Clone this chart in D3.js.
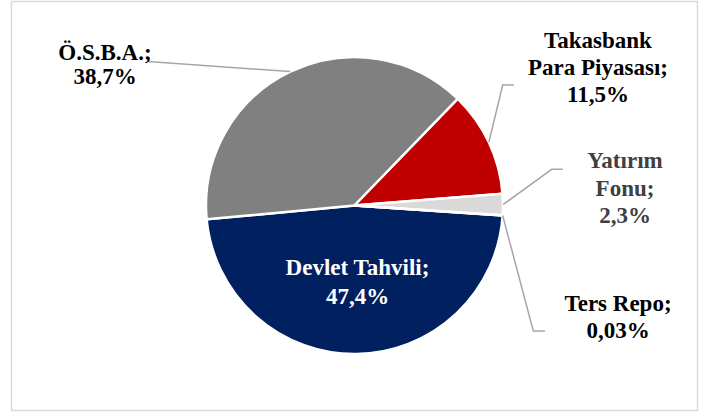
<!DOCTYPE html>
<html>
<head>
<meta charset="utf-8">
<script src="https://cdn.jsdelivr.net/npm/d3@7"></script>
<style>
  body { margin: 0; background: #fff; }
</style>
</head>
<body>
<div id="chart"></div>
<script>
// Data
var categories = ["Devlet Tahvili", "Ö.S.B.A.", "Takasbank Para Piyasası", "Yatırım Fonu", "Ters Repo"];
var values = [47.4, 38.7, 11.5, 2.3, 0.03];
var valueLabels = ["47,4%", "38,7%", "11,5%", "2,3%", "0,03%"];
var labelLines = [
  ["Devlet Tahvili;", "47,4%"],
  ["Ö.S.B.A.;", "38,7%"],
  ["Takasbank", "Para Piyasası;", "11,5%"],
  ["Yatırım", "Fonu;", "2,3%"],
  ["Ters Repo;", "0,03%"]
];
var colors = ["#002060", "#808080", "#c00000", "#d9d9d9", "#d9d9d9"];

// Step 1: chart area
var svgWidth = 705;
var svgHeight = 414;
var cx = 354.5, cy = 205.5, radius = 148.5;

var svg = d3.select("#chart").append("svg")
  .attr("width", svgWidth)
  .attr("height", svgHeight);

// outer frame
svg.append("rect")
  .attr("x", 11.5).attr("y", 1.5)
  .attr("width", 686).attr("height", 409)
  .attr("fill", "none")
  .attr("stroke", "#d9d9d9")
  .attr("stroke-width", 1.5);

var chartGroup = svg.append("g")
  .attr("transform", `translate(${cx}, ${cy})`);

// Step 2: pie layout
var start = 93.9 * Math.PI / 180;
var pie = d3.pie().sort(null).startAngle(start).endAngle(start + 2 * Math.PI);
var arcs = pie(values);

var arc = d3.arc().innerRadius(0).outerRadius(radius);
var edgeArc = d3.arc().innerRadius(radius).outerRadius(radius);

chartGroup.selectAll("path.slice")
  .data(arcs)
  .enter()
  .append("path")
  .attr("class", "slice")
  .attr("d", arc)
  .attr("fill", (d, i) => colors[i])
  .attr("stroke", "#fff")
  .attr("stroke-width", 2.5)
  .attr("stroke-linejoin", "round");

// Step 3: label placement (absolute page coords)
var labelLayout = [
  { x: 357.5, y: 275, lh: 28.5, fill: "#fff", line: null },
  { x: 105, y: 60, lh: 23.5, fill: "#000", line: [[148, 61.5]] },
  { x: 598, y: 48, lh: 26.8, fill: "#000", line: [[514, 85], [502.7, 85]] },
  { x: 625, y: 168.3, lh: 27.5, fill: "#404040", line: [[562.7, 169.3], [551.7, 169.3]] },
  { x: 618, y: 310.7, lh: 27.6, fill: "#000", line: [[545, 331], [533.3, 331]] }
];

// leader lines
arcs.forEach(function(d, i) {
  var lay = labelLayout[i];
  if (!lay.line) return;
  var p = edgeArc.centroid(d);
  var pts = lay.line.map(q => [q[0], q[1]]);
  pts.push([p[0] + cx, p[1] + cy]);
  svg.append("path")
    .attr("d", d3.line()(pts))
    .attr("fill", "none")
    .attr("stroke", "#a6a6a6")
    .attr("stroke-width", 1.5);
});

// labels
labelLines.forEach(function(lines, i) {
  var lay = labelLayout[i];
  var t = svg.append("text")
    .attr("text-anchor", "middle")
    .attr("font-family", "'Liberation Serif', 'Times New Roman', serif")
    .attr("font-weight", "bold")
    .attr("font-size", "23px")
    .attr("fill", lay.fill);
  lines.forEach(function(s, k) {
    t.append("tspan")
      .attr("x", lay.x)
      .attr("y", lay.y + k * lay.lh)
      .text(s);
  });
});
</script>
</body>
</html>
